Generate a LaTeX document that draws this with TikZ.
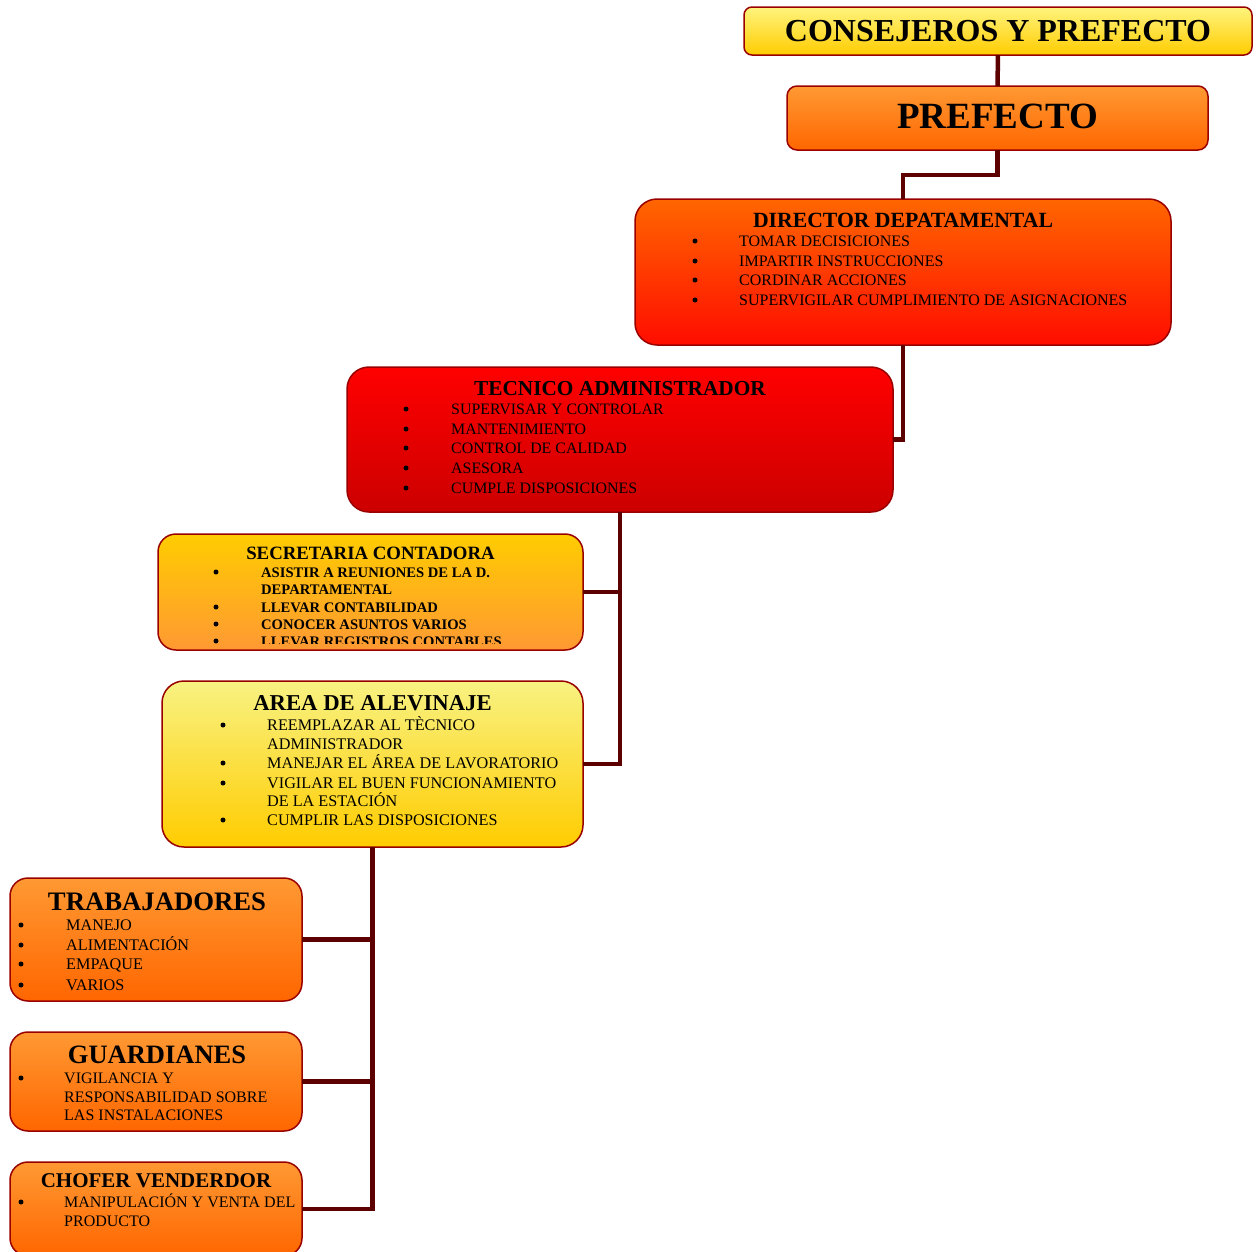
\documentclass[tikz,border=0pt]{standalone}
\usepackage{fontspec}
\setmainfont{Liberation Serif}
\definecolor{bordc}{HTML}{990000}
\definecolor{connc}{HTML}{5C0000}
\definecolor{yelT}{HTML}{FFF47E}
\definecolor{yelB}{HTML}{FFCC00}
\definecolor{orT}{HTML}{FF9933}
\definecolor{orB}{HTML}{FF6600}
\definecolor{redT}{HTML}{FF0000}
\definecolor{redB}{HTML}{CC0000}
\definecolor{dirB}{HTML}{FF0D00}
\definecolor{areaT}{HTML}{F8F282}
\newcommand\bitem[5]{%
  \node[bul] (#1b) at (#2,#4-5) {};
  \node[itm] (#1) at (#3,#4) {#5};}
\begin{document}
\begin{tikzpicture}[x=1pt,y=-1pt,
  box/.style={draw=bordc, line width=1.5pt, rectangle, outer sep=0pt, inner sep=0pt},
  conn/.style={draw=connc, line width=4.5pt, line join=miter},
  ttl/.style={anchor=base, inner sep=0pt, text=black},
  bul/.style={circle, fill=black, inner sep=0pt, minimum size=5pt},
  itm/.style={anchor=base west, inner sep=0pt, text=black}]
\useasboundingbox (0,0) rectangle (1259,1251);
\clip (0,0) rectangle (1259,1251);

% ---- boxes ----
\node[box, rounded corners=8pt, top color=yelT, bottom color=yelB,
  minimum width=508pt, minimum height=48pt] (cons) at (998,31) {};
\node[box, rounded corners=10pt, top color=orT, bottom color=orB,
  minimum width=421pt, minimum height=64pt] (pref) at (997.5,118) {};
\node[box, rounded corners=22pt, top color=orB, bottom color=dirB,
  minimum width=536pt, minimum height=146pt] (dir) at (903,272) {};
\node[box, rounded corners=22pt, top color=redT, bottom color=redB,
  minimum width=546pt, minimum height=145pt] (tec) at (620,439.5) {};
\node[box, rounded corners=18pt, top color=yelB, bottom color=orT,
  minimum width=425pt, minimum height=116pt] (sec) at (370.5,592) {};
\node[box, rounded corners=22pt, top color=areaT, bottom color=yelB,
  minimum width=421pt, minimum height=166pt] (area) at (372.5,764) {};
\node[box, rounded corners=18pt, top color=orT, bottom color=orB,
  minimum width=292pt, minimum height=123pt] (trab) at (156,939.5) {};
\node[box, rounded corners=18pt, top color=orT, bottom color=orB,
  minimum width=292pt, minimum height=99pt] (guard) at (156,1081.5) {};
\node[box, rounded corners=18pt, top color=orT, bottom color=orB,
  minimum width=292pt, minimum height=94pt] (chof) at (156,1209) {};

% ---- connectors ----
\draw[conn] (cons.south) -- (pref.north);
\draw[conn] (pref.south) -- ++(0,25) -| (dir.north);
\draw[conn] (dir.south) |- (tec.east);
\draw[conn] (tec.south) |- (sec.east);
\draw[conn] (tec.south) |- (area.east);
\draw[conn] (area.south) |- (trab.east);
\draw[conn] (area.south) |- (guard.east);
\draw[conn] (area.south) |- (chof.east);

% ---- titles ----
\node[ttl, font=\bfseries\fontsize{32}{32}\selectfont] (consT) at (998,41) {CONSEJEROS Y PREFECTO};
\node[ttl, font=\bfseries\fontsize{37}{37}\selectfont] (prefT) at (997.5,128) {PREFECTO};
\node[ttl, font=\bfseries\fontsize{21.7}{21.7}\selectfont] (dirT) at (903,227) {DIRECTOR DEPATAMENTAL};
\node[ttl, font=\bfseries\fontsize{21.3}{21.3}\selectfont] (tecT) at (620,395) {TECNICO ADMINISTRADOR};
\node[ttl, font=\bfseries\fontsize{18.8}{18.8}\selectfont] (secT) at (370.5,559) {SECRETARIA CONTADORA};
\node[ttl, font=\bfseries\fontsize{22.7}{22.7}\selectfont] (areaT) at (372.5,710) {AREA DE ALEVINAJE};
\node[ttl, font=\bfseries\fontsize{26.7}{26.7}\selectfont] (trabT) at (157,910) {TRABAJADORES};
\node[ttl, font=\bfseries\fontsize{26.5}{26.5}\selectfont] (guardT) at (157,1063) {GUARDIANES};
\node[ttl, font=\bfseries\fontsize{21}{21}\selectfont] (chofT) at (156,1187) {CHOFER VENDERDOR};

% ---- items ----
\begin{scope}[nodes={font=\fontsize{16}{16}\selectfont}]
\bitem{d1}{695}{739}{246}{TOMAR DECISICIONES}
\bitem{d2}{695}{739}{266}{IMPARTIR INSTRUCCIONES}
\bitem{d3}{695}{739}{285}{CORDINAR ACCIONES}
\bitem{d4}{695}{739}{305}{SUPERVIGILAR CUMPLIMIENTO DE ASIGNACIONES}
\end{scope}

\begin{scope}[nodes={font=\fontsize{15.9}{15.9}\selectfont}]
\bitem{t1}{406}{451}{414}{SUPERVISAR Y CONTROLAR}
\bitem{t2}{406}{451}{434}{MANTENIMIENTO}
\bitem{t3}{406}{451}{453}{CONTROL DE CALIDAD}
\bitem{t4}{406}{451}{473}{ASESORA}
\bitem{t5}{406}{451}{493}{CUMPLE DISPOSICIONES}
\end{scope}

\begin{scope}
\clip (150,530) rectangle (600,643);
\begin{scope}[nodes={font=\bfseries\fontsize{14.6}{14.6}\selectfont}]
\bitem{s1}{216}{261}{577}{ASISTIR A REUNIONES DE LA D.}
\node[itm] (s1b2) at (261,594) {DEPARTAMENTAL};
\bitem{s2}{216}{261}{612}{LLEVAR CONTABILIDAD}
\bitem{s3}{216}{261}{629}{CONOCER ASUNTOS VARIOS}
\bitem{s4}{216}{261}{646}{LLEVAR REGISTROS CONTABLES}
\end{scope}
\end{scope}

\begin{scope}[nodes={font=\fontsize{16.2}{16.2}\selectfont}]
\bitem{a1}{223}{267}{730}{REEMPLAZAR AL TÈCNICO}
\node[itm] (a1b2) at (267,749) {ADMINISTRADOR};
\bitem{a2}{223}{267}{768}{MANEJAR EL ÁREA DE LAVORATORIO}
\bitem{a3}{223}{267}{788}{VIGILAR EL BUEN FUNCIONAMIENTO}
\node[itm] (a3b2) at (267,806) {DE LA ESTACIÓN};
\bitem{a4}{223}{267}{825}{CUMPLIR LAS DISPOSICIONES}
\end{scope}

\begin{scope}[nodes={font=\fontsize{16.2}{16.2}\selectfont}]
\bitem{w1}{21}{66}{930}{MANEJO}
\bitem{w2}{21}{66}{950}{ALIMENTACIÓN}
\bitem{w3}{21}{66}{969}{EMPAQUE}
\bitem{w4}{21}{66}{990}{VARIOS}
\end{scope}

\begin{scope}[nodes={font=\fontsize{16}{16}\selectfont}]
\bitem{g1}{21}{64}{1083}{VIGILANCIA Y}
\node[itm] (g1b2) at (64,1102) {RESPONSABILIDAD SOBRE};
\node[itm] (g1b3) at (64,1120) {LAS INSTALACIONES};
\bitem{c1}{21}{64}{1207}{MANIPULACIÓN Y VENTA DEL}
\node[itm] (c1b2) at (64,1226) {PRODUCTO};
\end{scope}
\end{tikzpicture}
\end{document}
